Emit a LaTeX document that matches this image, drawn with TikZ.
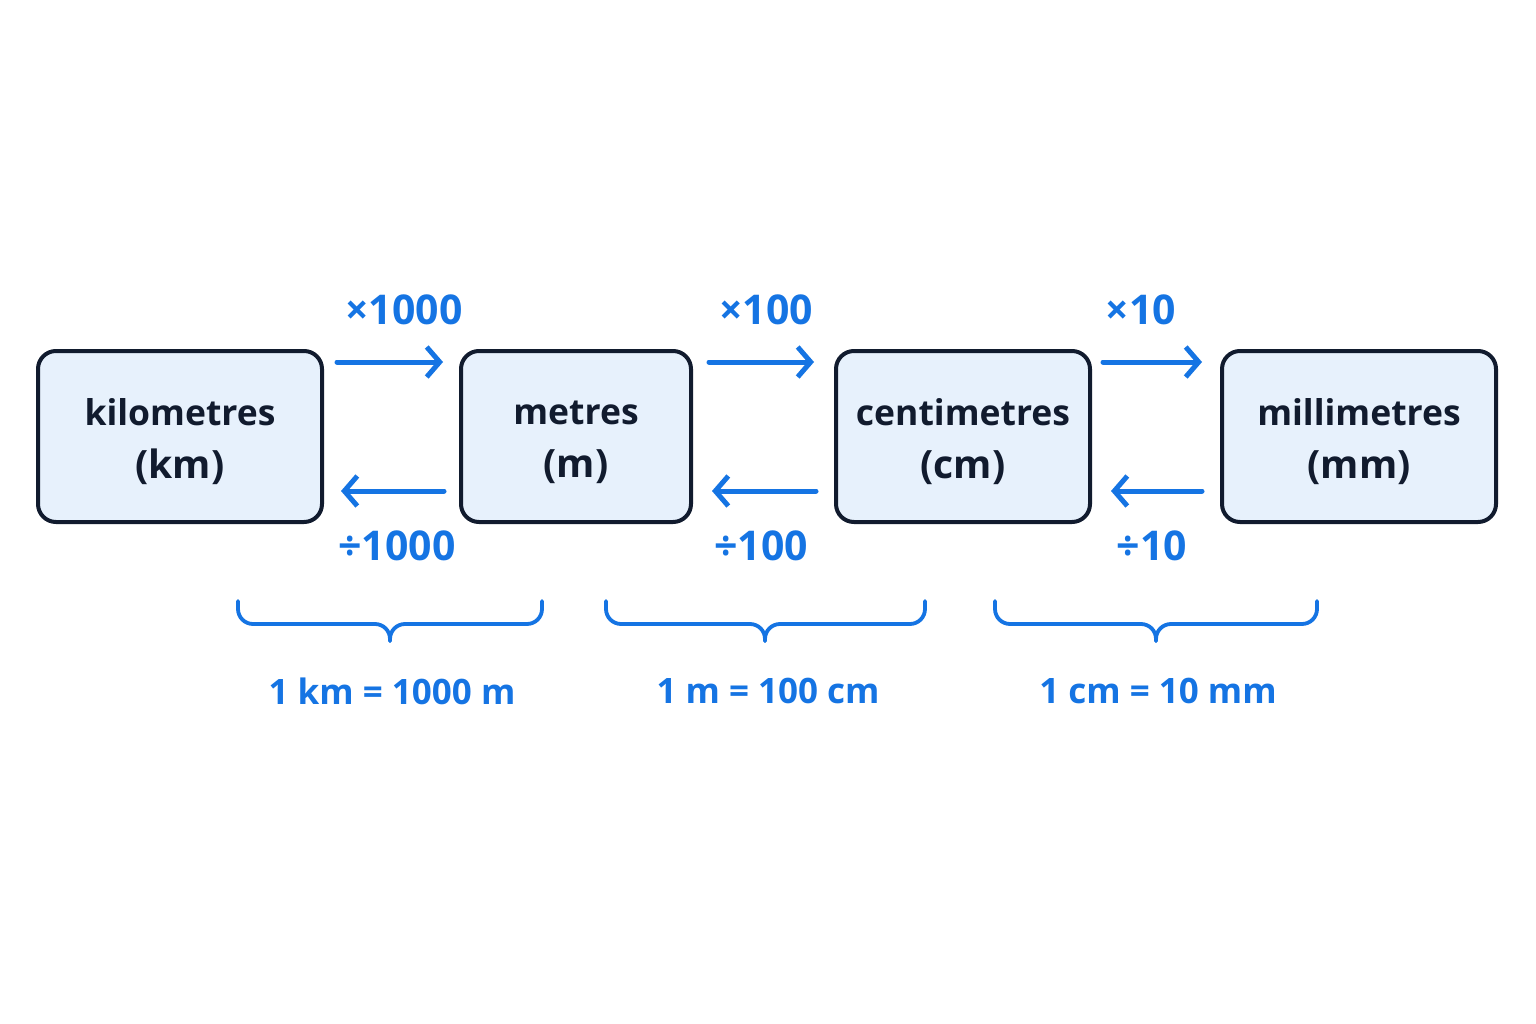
\documentclass[tikz,border=0pt]{standalone}
\usepackage{fontspec}
\setmainfont{Open Sans}
\usetikzlibrary{arrows.meta}
\definecolor{navy}{HTML}{111B2E}
\definecolor{boxfill}{HTML}{E7F1FC}
\definecolor{accent}{HTML}{1574E3}
\newcommand{\unitlines}[2]{#1\\{\fontsize{39}{53}\selectfont #2}}
\tikzset{
  unitbox/.style={draw=navy, line width=4pt, fill=boxfill, rounded corners=18pt, minimum height=171pt, inner sep=0pt},
  unittext/.style={align=center, text=navy, font=\fontsize{35.5}{53}\selectfont\bfseries, inner sep=0pt},
  conv/.style={draw=accent, line width=5pt, line cap=round, -{Straight Barb[length=13pt,width=30pt,line width=5pt]}},
  oplabel/.style={text=accent, font=\fontsize{41}{44}\selectfont\bfseries, inner sep=0pt},
  eqlabel/.style={text=accent, font=\fontsize{35}{38}\selectfont\bfseries, inner sep=0pt},
  bracepath/.style={draw=accent, line width=3.8pt, line cap=round, line join=round},
}
\begin{document}
\begin{tikzpicture}[x=1pt,y=-1pt]
\useasboundingbox[fill=white] (0,0) rectangle (1536,1024);
\node[unitbox, minimum width=284pt] (km) at (180,436.5) {};
\node[unitbox, minimum width=230pt] (m) at (576,436.5) {};
\node[unitbox, minimum width=254pt] (cm) at (963,436.5) {};
\node[unitbox, minimum width=274pt] (mm) at (1359,436.5) {};
\node[unittext] (kmt) at ([yshift=-5.5pt]km.center) {\unitlines{kilometres}{(km)}};
\node[unittext] (mt) at ([yshift=-5.5pt]m.center) {\unitlines{metres}{(m)}};
\node[unittext] (cmt) at ([yshift=-5.5pt]cm.center) {\unitlines{centimetres}{(cm)}};
\node[unittext] (mmt) at ([yshift=-5.5pt]mm.center) {\unitlines{millimetres}{(mm)}};
% forward arrows
\coordinate (a1s) at (337,362); \coordinate (a1e) at (443,362);
\coordinate (a2s) at (709,362); \coordinate (a2e) at (814,362);
\coordinate (a3s) at (1103,362); \coordinate (a3e) at (1202,362);
\draw[conv] (a1s) -- (a1e);
\draw[conv] (a2s) -- (a2e);
\draw[conv] (a3s) -- (a3e);
% backward arrows
\coordinate (b1s) at (444,491); \coordinate (b1e) at (341,491);
\coordinate (b2s) at (816,491); \coordinate (b2e) at (712,491);
\coordinate (b3s) at (1202,491); \coordinate (b3e) at (1111,491);
\draw[conv] (b1s) -- (b1e);
\draw[conv] (b2s) -- (b2e);
\draw[conv] (b3s) -- (b3e);
% labels
\node[oplabel] (x1000) at (404,310) {×1000};
\node[oplabel] (x100) at (766,310) {×100};
\node[oplabel] (x10) at (1141,310) {×10};
\node[oplabel] (d1000) at (397,546) {÷1000};
\node[oplabel] (d100) at (761,546) {÷100};
\node[oplabel] (d10) at (1152,546) {÷10};
% braces
\foreach \l/\r/\c in {238/542/390, 606/925/765, 995/1317/1156} {
  \draw[bracepath] (\l,601) -- (\l,609) arc[start angle=180,end angle=90,radius=15] -- ({\c-15},624) arc[start angle=270,end angle=360,radius=15] -- (\c,641);
  \draw[bracepath] (\r,601) -- (\r,609) arc[start angle=0,end angle=90,radius=15] -- ({\c+15},624) arc[start angle=270,end angle=180,radius=15] -- (\c,641);
}
\node[eqlabel] (e1) at (392,691) {1 km = 1000 m};
\node[eqlabel] (e2) at (768,691) {1 m = 100 cm};
\node[eqlabel] (e3) at (1158,691) {1 cm = 10 mm};
\end{tikzpicture}
\end{document}
